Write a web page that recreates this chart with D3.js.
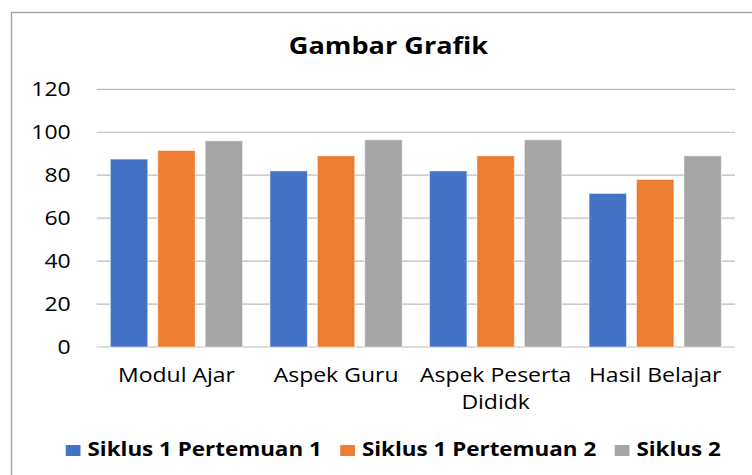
<!DOCTYPE html>
<html>
<head>
<meta charset="utf-8">
<script src="https://cdn.jsdelivr.net/npm/d3@7"></script>
<style>
  html, body { margin: 0; padding: 0; background: #fff; }
  svg { display: block; }
</style>
</head>
<body>
<div id="chart"></div>
<script>
const categories = ['Modul Ajar', 'Aspek Guru', 'Aspek Peserta Dididk', 'Hasil Belajar'];
const seriesNames = ['Siklus 1 Pertemuan 1', 'Siklus 1 Pertemuan 2', 'Siklus 2'];
const siklus1Pertemuan1 = [87.5, 82, 82, 71.5];
const siklus1Pertemuan2 = [91.5, 89, 89, 78];
const siklus2 = [96, 96.5, 96.5, 89];
const yTicks = [0, 20, 40, 60, 80, 100, 120];
const colors = ['#4472C4', '#ED7D31', '#A5A5A5'];

const W = 752, H = 475;
const margin = { top: 89.3, right: 17, bottom: 128, left: 96.7 };
const stretch = 1.18; // text in the picture is a little wide
const font = '"Open Sans", sans-serif';

const seriesValues = [siklus1Pertemuan1, siklus1Pertemuan2, siklus2];
const rows = categories.map((c, i) => ({
    category: c,
    values: seriesNames.map((s, j) => ({ key: s, value: seriesValues[j][i], idx: j }))
}));

const svg = d3.select('#chart').append('svg')
    .attr('width', W)
    .attr('height', H);

// chart frame (runs off right and bottom)
svg.append('rect')
    .attr('x', 11.5).attr('y', 12.5)
    .attr('width', 900).attr('height', 600)
    .attr('fill', 'none')
    .attr('stroke', '#a6a6a6')
    .attr('stroke-width', 1.5);

const x0 = d3.scaleBand()
    .domain(categories)
    .range([margin.left, W - margin.right])
    .padding(0);

const x1 = d3.scaleBand()
    .domain(seriesNames)
    .range([0, x0.bandwidth()])
    .paddingInner(0.211)
    .paddingOuter(0.288);

const y = d3.scaleLinear()
    .domain([0, 120])
    .range([347, margin.top]);

const color = d3.scaleOrdinal().domain(seriesNames).range(colors);

// gridlines
svg.append('g')
    .selectAll('line')
    .data(yTicks)
    .enter().append('line')
    .attr('x1', margin.left)
    .attr('x2', W - margin.right)
    .attr('y1', d => y(d))
    .attr('y2', d => y(d))
    .attr('stroke', '#bdbdbd')
    .attr('stroke-width', 1.2);

// y tick labels
svg.append('g')
    .selectAll('text')
    .data(yTicks)
    .enter().append('text')
    .attr('transform', d => `translate(70.7,${y(d) + 7}) scale(${stretch},1)`)
    .attr('text-anchor', 'end')
    .style('font-family', font)
    .style('font-size', '19.5px')
    .style('fill', '#000')
    .text(d => d);

// bars
const groups = svg.append('g')
    .selectAll('g')
    .data(rows)
    .enter().append('g')
    .attr('transform', d => `translate(${x0(d.category)},0)`);

groups.selectAll('rect')
    .data(d => d.values)
    .enter().append('rect')
    .attr('x', d => x1(d.key))
    .attr('width', x1.bandwidth())
    .attr('y', d => y(d.value))
    .attr('height', d => y(0) - y(d.value))
    .attr('fill', d => color(d.key))
    .attr('stroke', '#fff')
    .attr('stroke-opacity', 0.5)
    .attr('stroke-width', 1);

// category labels, wrapped to the band width
const catLabels = svg.append('g')
    .selectAll('text')
    .data(categories)
    .enter().append('text')
    .attr('transform', d => `translate(${x0(d) + x0.bandwidth() / 2},382.3) scale(${stretch},1)`)
    .attr('text-anchor', 'middle')
    .style('font-family', font)
    .style('font-size', '19.5px')
    .style('fill', '#000');

catLabels.each(function(d) {
    const text = d3.select(this);
    const words = d.split(' ');
    const maxW = (x0.bandwidth() - 4) / stretch;
    let line = [];
    let tspan = text.append('tspan').attr('x', 0).attr('dy', 0);
    words.forEach(w => {
        line.push(w);
        tspan.text(line.join(' '));
        if (tspan.node().getComputedTextLength() > maxW && line.length > 1) {
            line.pop();
            tspan.text(line.join(' '));
            line = [w];
            tspan = text.append('tspan').attr('x', 0).attr('dy', 27).text(w);
        }
    });
});

// title
svg.append('text')
    .attr('transform', 'translate(388.5,54.3) scale(1.13,1)')
    .attr('text-anchor', 'middle')
    .style('font-family', font)
    .style('font-weight', 700)
    .style('font-size', '24px')
    .style('fill', '#000')
    .text('Gambar Grafik');

// legend
const legend = svg.append('g');
const items = legend.selectAll('g')
    .data(seriesNames)
    .enter().append('g');

items.append('rect')
    .attr('width', 14.7)
    .attr('height', 11)
    .attr('y', 445)
    .attr('fill', d => color(d));

items.append('text')
    .attr('transform', `translate(21.7,456) scale(${stretch},1)`)
    .style('font-family', font)
    .style('font-weight', 700)
    .style('font-size', '19px')
    .style('fill', '#000')
    .text(d => d);

const widths = [];
items.select('text').each(function() {
    widths.push(21.7 + this.getComputedTextLength() * stretch);
});
const gap = 18.5;
const total = d3.sum(widths) + gap * (widths.length - 1);
let cx = 393.3 - total / 2;
items.attr('transform', (d, i) => {
    const t = `translate(${cx},0)`;
    cx += widths[i] + gap;
    return t;
});
</script>
</body>
</html>
